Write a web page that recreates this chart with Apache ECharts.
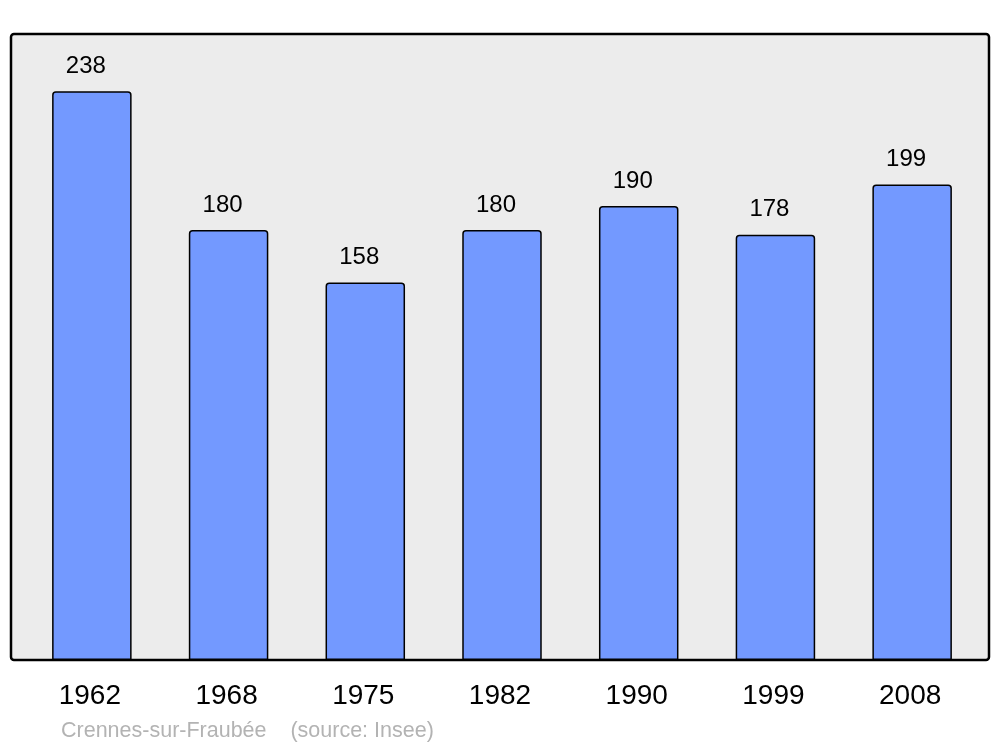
<!DOCTYPE html>
<html><head><meta charset="utf-8">
<script src="https://cdn.jsdelivr.net/npm/echarts@6/dist/echarts.min.js"></script>
<style>html,body{margin:0;padding:0;background:#fff}#c{width:1000px;height:747px}</style>
</head><body><div id="c"></div>
<script>
const years = ['1962','1968','1975','1982','1990','1999','2008'];
const population = [238,180,158,180,190,178,199];
const footer = 'Crennes-sur-Fraubée    (source: Insee)';

const chart = echarts.init(document.getElementById('c'), null, {renderer:'canvas'});
chart.setOption({
  animation:false,
  textStyle:{fontFamily:'Liberation Sans, Arial, sans-serif'},
  graphic:[
    {type:'rect', z:0, shape:{x:11,y:34,width:978,height:626,r:3},
     style:{fill:'#ececec',stroke:'#000',lineWidth:2.5}},
    {type:'text', left:61, top:720, z:10,
     style:{text:footer, fill:'#b3b3b3', font:'21.5px "Liberation Sans", Arial, sans-serif'}}
  ],
  grid:{left:23.5, top:34, width:957, height:626},
  xAxis:{type:'category', data:years, boundaryGap:true,
    axisLine:{show:false}, axisTick:{show:false},
    axisLabel:{fontSize:28, color:'#000', margin:22, padding:[0,4,0,0], fontFamily:'Liberation Sans, Arial, sans-serif'}},
  yAxis:{type:'value', min:0, max:262, show:false, splitLine:{show:false}},
  series:[{type:'bar', data:population, barWidth:79.5, z:5,
    itemStyle:{color:'#7399ff', borderColor:'#000', borderWidth:1.5, borderRadius:[3,3,0,0]},
    label:{show:true, position:'top', distance:13, offset:[-6,0], fontSize:24, color:'#000',
      fontFamily:'Liberation Sans, Arial, sans-serif'}}]
});
</script></body></html>
